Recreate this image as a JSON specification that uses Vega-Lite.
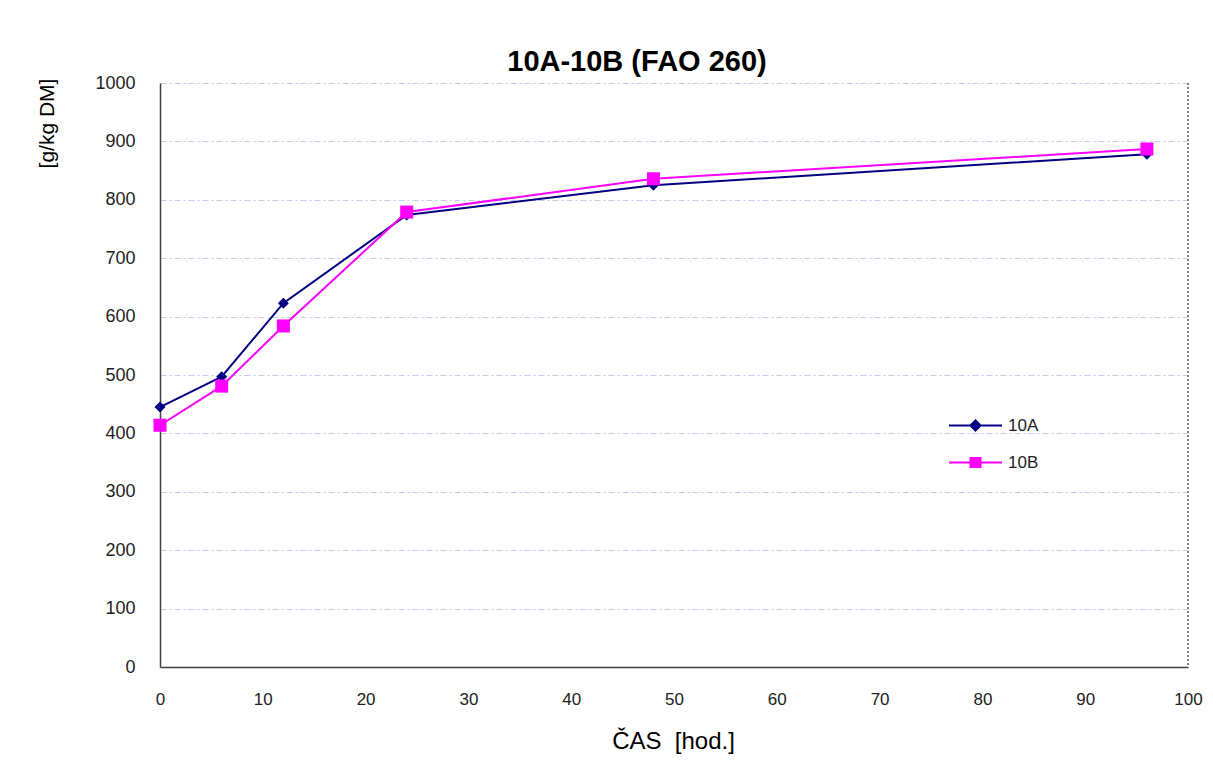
{
  "$schema": "https://vega.github.io/schema/vega-lite/v6.json",
  "autosize": "none",
  "width": 1028,
  "height": 584,
  "padding": {"left": 160, "top": 83, "right": 25, "bottom": 104},
  "background": "white",
  "config": {
    "font": "Liberation Sans",
    "view": {"stroke": null}
  },
  "title": {
    "text": "10A-10B (FAO 260)",
    "font": "Liberation Sans",
    "fontSize": 29,
    "fontWeight": "bold",
    "color": "black",
    "anchor": "middle",
    "frame": "group",
    "dx": -37,
    "offset": -3
  },
  "data": {
    "values": [
      {"cas": 0, "value": 445, "series": "10A"},
      {"cas": 6, "value": 497, "series": "10A"},
      {"cas": 12, "value": 623, "series": "10A"},
      {"cas": 24, "value": 774, "series": "10A"},
      {"cas": 48, "value": 825, "series": "10A"},
      {"cas": 96, "value": 878, "series": "10A"},
      {"cas": 0, "value": 414, "series": "10B"},
      {"cas": 6, "value": 481, "series": "10B"},
      {"cas": 12, "value": 584, "series": "10B"},
      {"cas": 24, "value": 779, "series": "10B"},
      {"cas": 48, "value": 836, "series": "10B"},
      {"cas": 96, "value": 887, "series": "10B"}
    ]
  },
  "encoding": {
    "x": {
      "field": "cas",
      "type": "quantitative",
      "scale": {"domain": [0, 100], "nice": false, "zero": false},
      "axis": {
        "values": [0, 10, 20, 30, 40, 50, 60, 70, 80, 90, 100],
        "grid": false,
        "ticks": false,
        "domainColor": "#404040",
        "domainWidth": 1.5,
        "labelFont": "Liberation Sans",
        "labelFontSize": 17,
        "labelColor": "#222222",
        "labelPadding": 24,
        "labelFlush": false,
        "title": "ČAS \u00a0[hod.]",
        "titleFont": "Liberation Sans",
        "titleFontSize": 24,
        "titleFontWeight": "normal",
        "titleColor": "black",
        "titleX": 513,
        "titleY": 62,
        "titleAnchor": null
      }
    },
    "y": {
      "field": "value",
      "type": "quantitative",
      "scale": {"domain": [0, 1000], "nice": false},
      "axis": {
        "values": [0, 100, 200, 300, 400, 500, 600, 700, 800, 900, 1000],
        "format": "d",
        "grid": true,
        "gridColor": "#c4cce8",
        "gridDash": [6, 3, 2, 3],
        "gridWidth": 1,
        "ticks": false,
        "domainColor": "#404040",
        "domainWidth": 1.5,
        "labelFont": "Liberation Sans",
        "labelFontSize": 18,
        "labelColor": "#222222",
        "labelPadding": 25,
        "title": "[g/kg DM]",
        "titleFont": "Liberation Sans",
        "titleFontSize": 21,
        "titleFontWeight": "normal",
        "titleColor": "black",
        "titleAngle": -90,
        "titleX": -113,
        "titleY": 40,
        "titleAlign": "center",
        "titleBaseline": "middle"
      }
    }
  },
  "layer": [
    {
      "mark": {"type": "rule", "color": "#808080", "strokeDash": [2, 2], "strokeWidth": 1.5},
      "encoding": {"x": {"datum": 100}, "y": null}
    },
    {
      "mark": {"type": "line", "strokeWidth": 2},
      "encoding": {
        "color": {
          "field": "series",
          "type": "nominal",
          "scale": {"domain": ["10A", "10B"], "range": ["#000080", "#FF00FF"]},
          "legend": {
            "orient": "none",
            "legendX": 788,
            "legendY": 315,
            "title": null,
            "symbolType": "stroke",
            "symbolSize": 2809,
            "labelFont": "Liberation Sans",
            "labelFontSize": 17,
            "labelColor": "#222222",
            "labelOffset": 5,
            "rowPadding": -3,
            "encode": {
              "symbols": {
                "update": {
                  "shape": {"signal": "datum.value === '10A' ? 'M-1,0L1,0M-0.19,0L0,-0.19L0.19,0L0,0.19Z' : 'M-1,0L1,0M-0.19,-0.17L0.19,-0.17L0.19,0.17L-0.19,0.17Z'"},
                  "fill": {"signal": "datum.value === '10A' ? '#000080' : '#FF00FF'"},
                  "stroke": {"signal": "datum.value === '10A' ? '#000080' : '#FF00FF'"},
                  "strokeWidth": {"value": 2},
                  "opacity": {"value": 1}
                }
              }
            }
          }
        }
      }
    },
    {
      "transform": [{"filter": "datum.series === '10A'"}],
      "mark": {"type": "point", "filled": true, "opacity": 1, "shape": "diamond", "size": 121, "color": "#000080"}
    },
    {
      "transform": [{"filter": "datum.series === '10B'"}],
      "mark": {"type": "point", "filled": true, "opacity": 1, "shape": "square", "size": 170, "color": "#FF00FF"}
    }
  ]
}
